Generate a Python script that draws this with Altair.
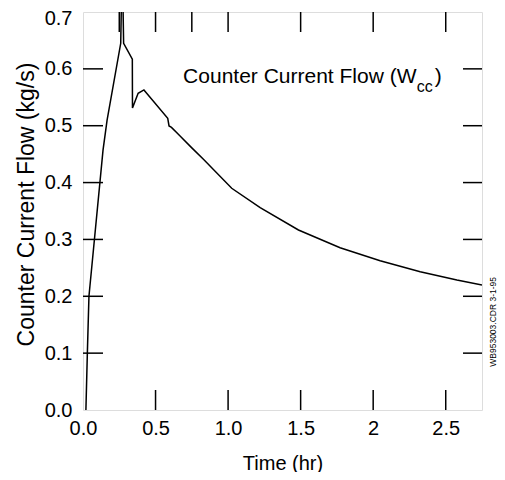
import altair as alt
import pandas as pd

# Curve
time_hr = [0.02, 0.03, 0.041, 0.138, 0.166, 0.26, 0.27, 0.28, 0.34, 0.341, 0.38, 0.42,
           0.584, 0.593, 0.61, 0.669, 0.75, 0.83, 1.025, 1.221, 1.485, 1.772, 2.048,
           2.324, 2.577, 2.75]
flow_kgs = [0.0, 0.1, 0.2, 0.457, 0.51, 0.645, 0.80, 0.645, 0.617, 0.531, 0.557, 0.563,
            0.513, 0.4995, 0.497, 0.482, 0.461, 0.441, 0.390, 0.356, 0.3166, 0.2855, 0.2626,
            0.243, 0.2286, 0.22]

x_label_values = [0.0, 0.5, 1.0, 1.5, 2.0, 2.5]
y_label_values = [0.0, 0.1, 0.2, 0.3, 0.4, 0.5, 0.6, 0.7]
bottom_ticks = [0.5, 1.0, 1.5, 2.0, 2.5]
top_ticks = [0.25, 0.5, 0.75, 1.0, 1.5, 2.0, 2.5]
side_ticks = [0.1, 0.2, 0.3, 0.4, 0.5, 0.6]

FONT = "Liberation Sans"
W, H = 399, 398
TICK = 20

curve = pd.DataFrame({"t": time_hr, "w": flow_kgs})

xscale = alt.Scale(domain=[0, 2.75], nice=False, zero=False)
yscale = alt.Scale(domain=[0, 0.7], nice=False, zero=False)

line = alt.Chart(curve).mark_line(color="black", strokeWidth=1.5, clip=True).encode(
    x=alt.X("t:Q", scale=xscale, axis=alt.Axis(
        values=x_label_values, ticks=False, domain=False, grid=False, labelFlush=False,
        labelExpr="datum.value == 2 ? '2' : format(datum.value, '.1f')",
        labelFont=FONT, labelFontSize=20, labelColor="black", labelPadding=8,
        title="Time (hr)", titleFont=FONT, titleFontSize=20, titleFontWeight="normal",
        titleColor="black", titleBaseline="alphabetic", titleY=59)),
    y=alt.Y("w:Q", scale=yscale, axis=alt.Axis(
        values=y_label_values, ticks=False, domain=False, grid=False, format=".1f",
        labelFlush=False,
        labelFont=FONT, labelFontSize=20, labelColor="black", labelPadding=11,
        labelOffset={"condition": {"test": "datum.value > 0.65", "value": 6}, "value": 0},
        title="Counter Current Flow (kg/s)", titleFont=FONT, titleFontSize=23,
        titleFontWeight="normal", titleColor="black", titleAngle=-90,
        titleBaseline="middle", titleX=-57, titleY=192)),
)

bt = alt.Chart(pd.DataFrame({"v": bottom_ticks})).mark_rule(color="black", strokeWidth=1.5).encode(
    x=alt.X("v:Q", scale=xscale), y=alt.value(H), y2=alt.value(H - TICK))
tt = alt.Chart(pd.DataFrame({"v": top_ticks})).mark_rule(color="black", strokeWidth=1.5).encode(
    x=alt.X("v:Q", scale=xscale), y=alt.value(0), y2=alt.value(TICK))
lt = alt.Chart(pd.DataFrame({"v": side_ticks})).mark_rule(color="black", strokeWidth=1.5).encode(
    y=alt.Y("v:Q", scale=yscale), x=alt.value(0), x2=alt.value(TICK))
rt = alt.Chart(pd.DataFrame({"v": side_ticks})).mark_rule(color="black", strokeWidth=1.5).encode(
    y=alt.Y("v:Q", scale=yscale), x=alt.value(W - TICK + 1), x2=alt.value(W))

ann_main = alt.Chart(pd.DataFrame({"t": [0.69], "w": [0.575], "s": ["Counter Current Flow (W"]})).mark_text(
    align="left", baseline="alphabetic", font=FONT, fontSize=21, color="black").encode(
    x=alt.X("t:Q", scale=xscale), y=alt.Y("w:Q", scale=yscale), text="s:N")
ann_sub = alt.Chart(pd.DataFrame({"t": [2.30], "w": [0.559], "s": ["cc"]})).mark_text(
    align="left", baseline="alphabetic", font=FONT, fontSize=16, color="black").encode(
    x=alt.X("t:Q", scale=xscale), y=alt.Y("w:Q", scale=yscale), text="s:N")
ann_close = alt.Chart(pd.DataFrame({"t": [2.425], "w": [0.575], "s": [")"]})).mark_text(
    align="left", baseline="alphabetic", font=FONT, fontSize=21, color="black").encode(
    x=alt.X("t:Q", scale=xscale), y=alt.Y("w:Q", scale=yscale), text="s:N")
side = alt.Chart(pd.DataFrame({"t": [2.826], "w": [0.155], "s": ["WB953003.CDR 3-1-95"]})).mark_text(
    align="center", baseline="middle", angle=270, font=FONT, fontSize=8.5, color="black").encode(
    x=alt.X("t:Q", scale=xscale), y=alt.Y("w:Q", scale=yscale), text="s:N")

chart = alt.layer(line, bt, tt, lt, rt, ann_main, ann_sub, ann_close, side).properties(
    width=W, height=H,
    autosize=alt.AutoSizeParams(type="none"),
    padding={"left": 75, "top": 4, "right": 15, "bottom": 62},
).configure_view(stroke="black", strokeWidth=1.5).configure(background="white")

chart.save("out.html", embed_options={"renderer": "svg", "actions": False})
